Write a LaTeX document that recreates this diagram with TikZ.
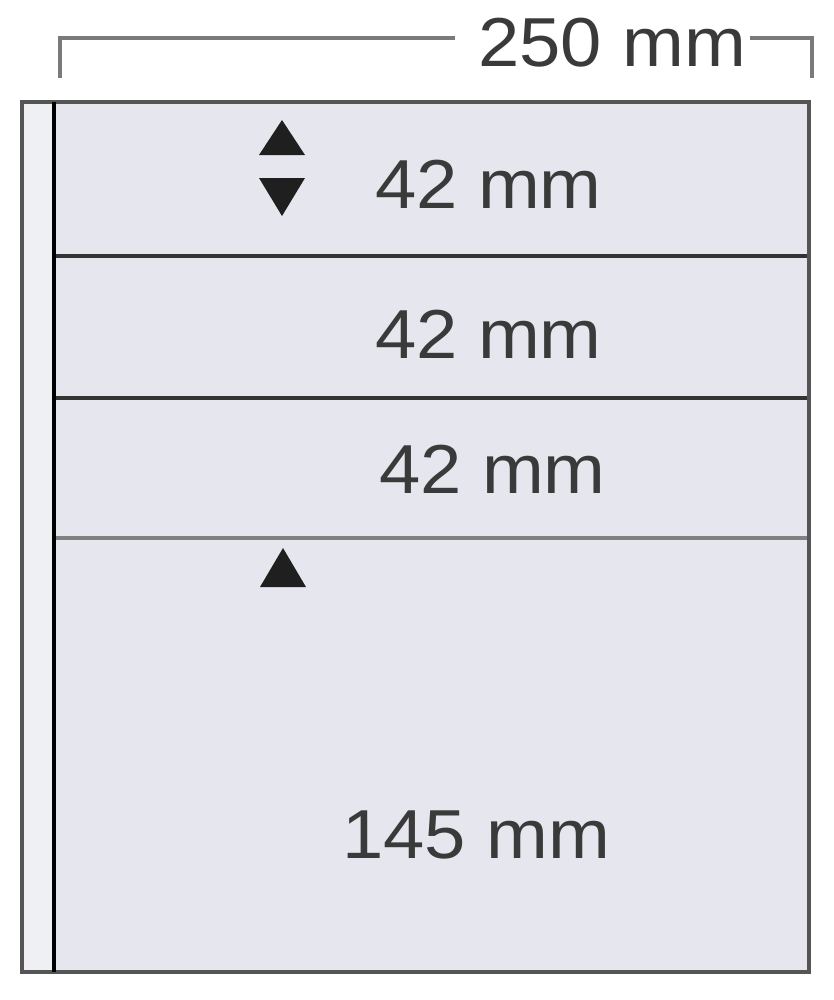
\documentclass[tikz,border=0pt]{standalone}
\usepackage{fontspec}
\setmainfont{Liberation Sans}[FakeStretch=1.07]
\definecolor{pagefill}{HTML}{E6E7EE}
\definecolor{stripfill}{HTML}{EEF0F4}
\definecolor{txt}{HTML}{3A3A3A}
\definecolor{framegray}{HTML}{555555}
\definecolor{brgray}{HTML}{7A7A7A}
\begin{document}
\begin{tikzpicture}[x=0.75pt,y=-0.75pt,
  lbl/.style={anchor=base west,inner sep=0pt,outer sep=0pt,text=txt,font=\fontsize{52}{60}\selectfont},
  tri/.style={fill=black!88},
  divdark/.style={draw=black!80,line width=3pt},
  divlight/.style={draw=black!50,line width=2.6pt},
  bracket/.style={draw=brgray,line width=2.5pt}]
\useasboundingbox (0,0) rectangle (833,1000);
% sheet
\fill[pagefill] (20,100) rectangle (810,972);
\fill[stripfill] (22,100) rectangle (52,972);
% dividers
\draw[divdark] (54,256) -- (810,256);
\draw[divdark] (54,398) -- (810,398);
\draw[divlight] (54,538) -- (810,538);
% frame
\draw[framegray,line width=3.5pt] (22,102) rectangle (809,972);
\draw[black,line width=3.2pt] (54,102) -- (54,972);
% labels
\node[lbl] (w) at (478,66) {250 mm};
\node[lbl] (r1) at (375,208) {42 mm};
\node[lbl] (r2) at (375,358) {42 mm};
\node[lbl] (r3) at (379,493) {42 mm};
\node[lbl] (r4) at (342,858) {145 mm};
% dimension bracket
\coordinate (bl) at (60,78);
\coordinate (br) at (812,78);
\draw[bracket] (bl) -- (60,38) -- ([xshift=-17pt]w.west |- 60,38);
\draw[bracket] ([xshift=3pt]w.east |- 60,38) -- (812,38) -- (br);
% arrows
\fill[tri] (282,120) -- (305,155) -- (259,155) -- cycle;
\fill[tri] (259,178) -- (305,178) -- (282,216) -- cycle;
\fill[tri] (283,548) -- (306,587) -- (260,587) -- cycle;
\end{tikzpicture}
\end{document}
